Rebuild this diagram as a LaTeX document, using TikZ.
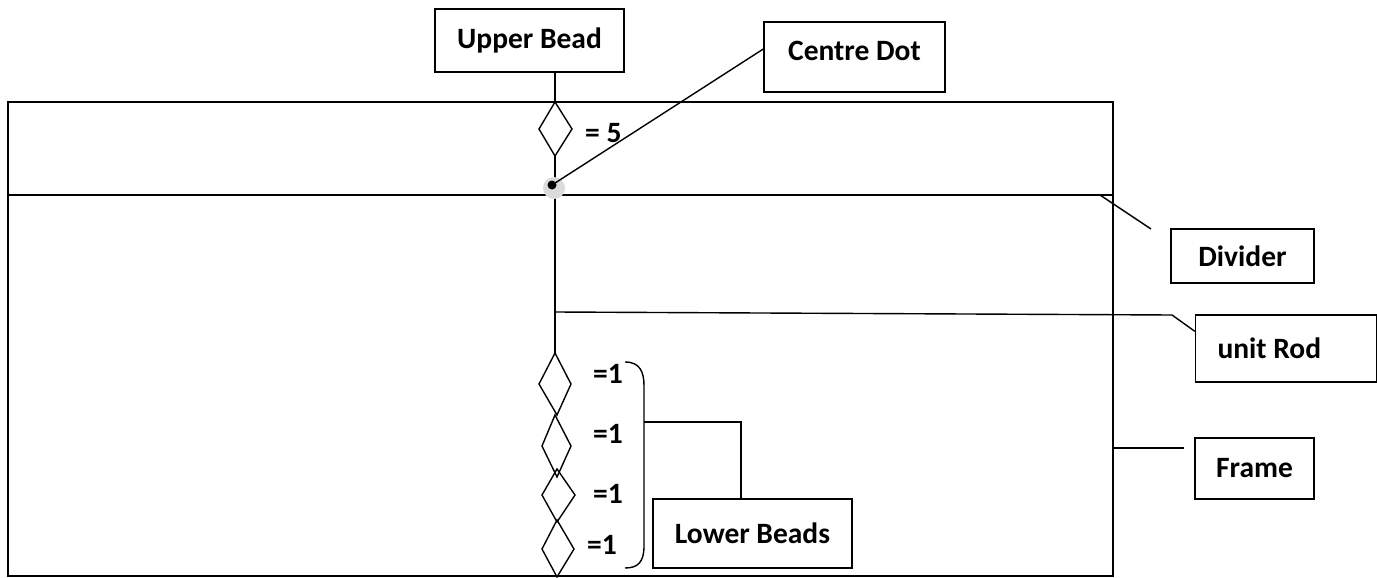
\documentclass[tikz,border=0pt]{standalone}
\usepackage{fontspec}
\setmainfont{Carlito}
\begin{document}
\begin{tikzpicture}[x=1pt,y=-1pt,
  lbl/.style={font=\fontsize{29.5}{34}\selectfont\bfseries, inner sep=0pt},
  labelbox/.style={draw, line width=1.4pt, inner sep=0pt, font=\fontsize{29.5}{34}\selectfont\bfseries},
  thinline/.style={line width=1.4pt},
  frameline/.style={line width=2pt}]
\useasboundingbox (0,0) rectangle (1377,578);
% frame and divider
\coordinate (ftl) at (8,102);
\coordinate (fbr) at (1113,576);
\coordinate (dl) at (8,195);
\coordinate (dr) at (1113,195);
\draw[frameline] (ftl) rectangle (fbr);
\draw[frameline] (dl) -- (dr);
% label boxes
\node[labelbox, minimum width=189pt, minimum height=63pt] (ub) at (529.5,40.5) {Upper Bead};
\node[labelbox, minimum width=181pt, minimum height=70pt, text height=39pt, text depth=31pt] (cd) at (854.5,57) {Centre Dot};
\node[labelbox, minimum width=143pt, minimum height=54pt] (dv) at (1242.5,256) {Divider};
\node[labelbox, minimum width=181pt, minimum height=67pt] (ur) at (1286,348.5) {\makebox[137pt][l]{unit Rod}};
\node[labelbox, minimum width=119pt, minimum height=61pt] (fr) at (1254.5,468.5) {Frame};
\node[labelbox, minimum width=199pt, minimum height=69pt] (lb) at (752.5,533.5) {Lower Beads};
% rod coordinates
\coordinate (r0) at (555,102);
\coordinate (r1) at (555,156);
\coordinate (r2) at (555,353);
\coordinate (rrod) at (555,312);
% upper bead
\draw[thinline] (ub.south -| r0) -- (r0);
\draw[thinline, line join=miter] (r0) -- (572,129) -- (r1) -- (539,129) -- cycle;
\node[lbl, anchor=west] (five) at (585,133) {= 5};
% rod
\draw[thinline] (r1) -- (r2);
% centre dot
\fill[gray!28] (554,188) circle (11pt);
\node[circle, fill=black, inner sep=0pt, minimum size=9pt] (dot) at (552,185) {};
\draw[thinline] (dot.center) -- ([yshift=8pt]cd.west);
% lower beads
\draw[thinline] (r2) -- (571,384) -- (557,415) -- (539,384) -- cycle;
\draw[thinline] (555,415) -- (571,446) -- (557,477) -- (542,446) -- cycle;
\draw[thinline] (557,469) -- (575,495) -- (557,522) -- (542,495) -- cycle;
\draw[thinline] (557,520) -- (574,549) -- (557,577) -- (542,549) -- cycle;
\node[lbl, anchor=west] (o1) at (593,374) {=1};
\node[lbl, anchor=west] (o2) at (593,434) {=1};
\node[lbl, anchor=west] (o3) at (593,494) {=1};
\node[lbl, anchor=west] (o4) at (587,545) {=1};
% brace
\coordinate (bt) at (625,362);
\coordinate (bm) at (644,422);
\coordinate (bb) at (625,568);
\draw[thinline] (bt) .. controls (640,362) and (644,372) .. (644,386) -- (644,546) .. controls (644,562) and (638,568) .. (bb);
\coordinate (bk) at (741,422);
\draw[thinline] (bm) -- (bk) -- (lb.north -| bk);
% pointers
\coordinate (dvend) at (1151,229);
\draw[thinline] (1100,195) -- (dvend);
\coordinate (urk) at (1172,315);
\draw[thinline] (rrod) -- (urk) -- ([yshift=-17pt]ur.north west);
\coordinate (frend) at (1184,448);
\draw[thinline] (1113,448) -- (frend);
\end{tikzpicture}
\end{document}
